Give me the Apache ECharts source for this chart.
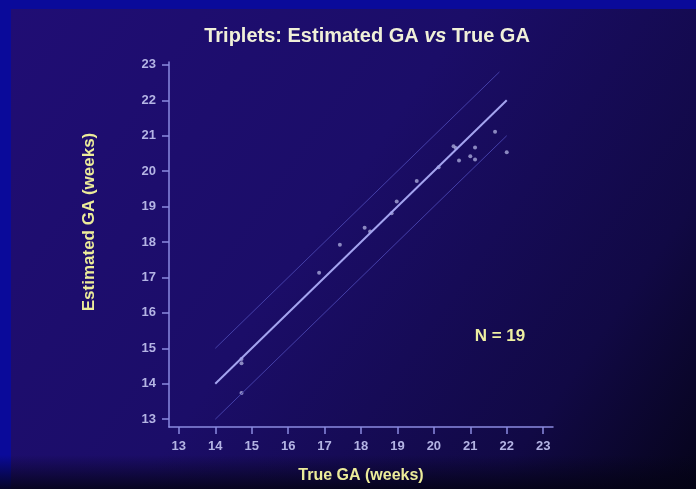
<!DOCTYPE html>
<html><head><meta charset="utf-8">
<script src="https://cdn.jsdelivr.net/npm/echarts@6/dist/echarts.min.js"></script>
<style>html,body{margin:0;padding:0;background:#0a0a9a}#c{width:696px;height:489px}</style>
</head><body><div id="c"></div>
<script>
// ---- data ----
const trueGA = [21.68, 22.0, 21.13, 21.0, 21.13, 20.69, 20.54, 20.13, 19.53, 18.98, 18.84, 18.25, 18.1, 17.42, 16.85, 14.72, 14.72, 14.72, 20.6];
const estGA  = [21.11, 20.53, 20.67, 20.42, 20.33, 20.30, 20.70, 20.11, 19.72, 19.14, 18.81, 18.30, 18.40, 17.92, 17.13, 14.70, 14.58, 13.74, 20.65];
const xTicks = [13, 14, 15, 16, 17, 18, 19, 20, 21, 22, 23];
const yTicks = [13, 14, 15, 16, 17, 18, 19, 20, 21, 22, 23];
const identityX = [14, 22];
const identityY = [14, 22];
const upperX = [14, 21.8];
const upperY = [15, 22.8];
const lowerX = [14, 22];
const lowerY = [13, 21];
const nLabel = 'N = 19';

const chart = echarts.init(document.getElementById('c'), null, {renderer: 'canvas'});
const pts = trueGA.map((x, i) => [x, estGA[i]]);
const pairs = (xs, ys) => xs.map((x, i) => [x, ys[i]]);
const axisCol = '#8a8ae0';
const labCol = '#b4b4e4';

chart.setOption({
  backgroundColor: '#0a0a9a',
  animation: false,
  graphic: [
    {type: 'rect', z: -10, shape: {x: 11, y: 9, width: 685, height: 480},
     style: {fill: new echarts.graphic.LinearGradient(0, 0, 1, 1, [
       {offset: 0, color: '#200d74'}, {offset: 0.45, color: '#1b0d68'},
       {offset: 0.8, color: '#110945'}, {offset: 1, color: '#06041a'}])}},
    {type: 'rect', z: -9, shape: {x: 0, y: 455, width: 696, height: 34},
     style: {fill: new echarts.graphic.LinearGradient(0, 0, 0, 1, [
       {offset: 0, color: 'rgba(4,3,20,0)'}, {offset: 1, color: 'rgba(4,3,20,0.85)'}])}},
    {type: 'text', x: 89, y: 222, rotation: Math.PI / 2,
     style: {text: 'Estimated GA (weeks)', fill: '#ecec9a', font: 'bold 17px "Liberation Sans", Arial, sans-serif',
             textAlign: 'center', textVerticalAlign: 'middle'}},
    {type: 'text', x: 500, y: 336,
     style: {text: nLabel, fill: '#eef0a2', font: 'bold 17px "Liberation Sans", Arial, sans-serif',
             textAlign: 'center', textVerticalAlign: 'middle'}}
  ],
  title: {
    text: '{a|Triplets: Estimated GA }{b|vs}{a| True GA}',
    left: 362, top: 21, textAlign: 'center',
    textStyle: {rich: {
      a: {color: '#f0f0d8', fontSize: 20, fontWeight: 'bold', fontFamily: 'Liberation Sans'},
      b: {color: '#f0f0d8', fontSize: 20, fontWeight: 'bold', fontStyle: 'italic', fontFamily: 'Liberation Sans'}
    }}
  },
  grid: {left: 169, right: 143, top: 62, bottom: 58},
  xAxis: {
    type: 'value', min: 12.73, max: 23.27,
    axisLine: {show: true, lineStyle: {color: axisCol, width: 1.5}},
    axisTick: {show: true, customValues: xTicks, length: 7, inside: false, lineStyle: {color: axisCol, width: 1.5}},
    axisLabel: {customValues: xTicks, color: labCol, fontSize: 13, fontWeight: 'bold', margin: 13, fontFamily: 'Liberation Sans'},
    splitLine: {show: false},
    name: 'True GA (weeks)', nameLocation: 'middle', nameGap: 41,
    nameTextStyle: {color: '#ecec9a', fontSize: 16, fontWeight: 'bold', fontFamily: 'Liberation Sans'}
  },
  yAxis: {
    type: 'value', min: 12.78, max: 23.08,
    axisLine: {show: true, lineStyle: {color: axisCol, width: 1.5}},
    axisTick: {show: true, customValues: yTicks, length: 7, lineStyle: {color: axisCol, width: 1.5}},
    axisLabel: {customValues: yTicks, color: labCol, fontSize: 13, fontWeight: 'bold', margin: 13, fontFamily: 'Liberation Sans'},
    splitLine: {show: false}
  },
  series: [
    {type: 'line', data: pairs(upperX, upperY), symbol: 'none', silent: true,
     lineStyle: {color: '#443fa8', width: 1}},
    {type: 'line', data: pairs(lowerX, lowerY), symbol: 'none', silent: true,
     lineStyle: {color: '#443fa8', width: 1}},
    {type: 'line', data: pairs(identityX, identityY), symbol: 'none', silent: true,
     lineStyle: {color: '#a4a4f0', width: 2}},
    {type: 'scatter', data: pts, symbolSize: 4, itemStyle: {color: '#a8a8d8'}}
  ]
});
</script></body></html>
